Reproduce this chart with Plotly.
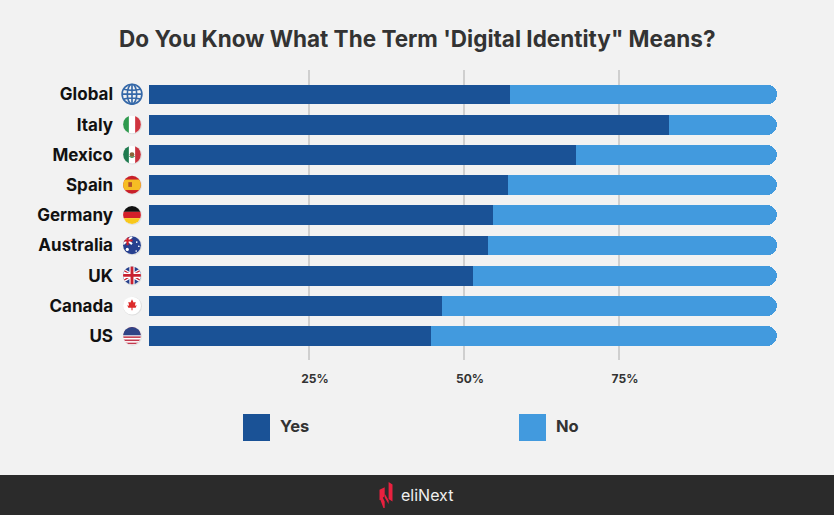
import base64
import plotly.graph_objects as go

countries = ["Global", "Italy", "Mexico", "Spain", "Germany", "Australia", "UK", "Canada", "US"]
yes_values = [57.4, 83.0, 68.0, 57.1, 54.7, 53.9, 51.5, 46.5, 44.7]
axis_ticks = [25, 50, 75]
tick_labels = ["25%", "50%", "75%"]
full_end = 100.5
bar_start = -0.8

W, H = 834, 515
L, R, T, B = 149, 800, 70, 360
FONT = "Inter, 'Open Sans', sans-serif"
YES = "#1a5296"
NO = "#429ade"
BG = "#f2f2f2"


def svg_uri(body, vb="0 0 40 40"):
    s = f'<svg xmlns="http://www.w3.org/2000/svg" viewBox="{vb}" width="80" height="80">{body}</svg>'
    return "data:image/svg+xml;base64," + base64.b64encode(s.encode()).decode()


def flag(inner):
    return svg_uri(
        '<defs><clipPath id="c"><circle cx="20" cy="20" r="17"/></clipPath></defs>'
        '<circle cx="21" cy="21" r="18" fill="#dfdfdf"/>'
        f'<g clip-path="url(#c)"><rect width="40" height="40" fill="#fff"/>{inner}</g>'
    )


union = (
    '<rect width="40" height="40" fill="#27408b"/>'
    '<path d="M0 8L40 32M40 8L0 32" stroke="#fff" stroke-width="7"/>'
    '<path d="M0 8L40 32M40 8L0 32" stroke="#c8202f" stroke-width="2.5"/>'
    '<path d="M20 0V40M0 20H40" stroke="#fff" stroke-width="10"/>'
    '<path d="M20 0V40M0 20H40" stroke="#c8202f" stroke-width="5.5"/>'
)
flags = [
    svg_uri('<g fill="none" stroke="#3568a8" stroke-width="3"><circle cx="20" cy="20" r="18"/>'
            '<ellipse cx="20" cy="20" rx="8.5" ry="18"/><path d="M20 2V38M2 20H38M5 11Q20 15 35 11M5 29Q20 25 35 29"/></g>'),
    flag('<rect x="3" width="11" height="40" fill="#2f9a4e"/><rect x="26" width="11" height="40" fill="#d0343f"/>'),
    flag('<rect x="3" width="11" height="40" fill="#1f7a4f"/><rect x="26" width="11" height="40" fill="#c8303c"/>'
         '<circle cx="20" cy="20" r="4.5" fill="#8a6238"/><path d="M15 23Q20 28 25 23" stroke="#3b8a55" stroke-width="2" fill="none"/>'),
    flag('<rect width="40" height="40" fill="#c8202a"/><rect y="10" width="40" height="20" fill="#f6bd24"/>'
         '<rect x="13" y="15" width="7" height="9" fill="#b5532a"/>'),
    flag('<rect width="40" height="14" fill="#111"/><rect y="14" width="40" height="12" fill="#d3202a"/>'
         '<rect y="26" width="40" height="14" fill="#f8c81c"/>'),
    flag('<rect width="40" height="40" fill="#27408f"/><path d="M3 4L20 18M20 4L3 18" stroke="#fff" stroke-width="4"/>'
         '<path d="M11.5 2V20M2 11H21" stroke="#d3202a" stroke-width="4"/>'
         '<circle cx="11" cy="28" r="3" fill="#fff"/><circle cx="29" cy="14" r="1.6" fill="#fff"/>'
         '<circle cx="33" cy="22" r="1.6" fill="#fff"/><circle cx="28" cy="31" r="1.6" fill="#fff"/>'),
    flag(union),
    flag('<path d="M20 8L23 14L27 13L25.5 20L29 19.5L27 24L21 24V29H19V24L13 24L11 19.5L14.5 20L13 13L17 14Z" fill="#dc2a2a"/>'),
    flag('<rect width="40" height="40" fill="#fff"/>'
         + "".join(f'<rect y="{y}" width="40" height="3" fill="#c23a4e"/>' for y in range(3, 40, 6))
         + '<rect width="40" height="19" fill="#2f4386"/>'),
]

yes_spans = [v - bar_start for v in yes_values]
track_spans = [full_end - bar_start] * len(countries)
bases = [bar_start] * len(countries)

fig = go.Figure()
fig.add_bar(name="No", y=countries, x=track_spans, base=bases,
            orientation="h", width=0.66, marker=dict(color=NO, line_width=0, cornerradius=10), showlegend=False)
fig.add_bar(name="Yes", y=countries, x=yes_spans, base=bases,
            orientation="h", width=0.66, marker=dict(color=YES, line_width=0), showlegend=False)

px_per_unit = 6.2
x_end = bar_start + (R - L) / px_per_unit


def px(x):
    return (x - L) / (R - L)


def py(y):
    return (B - y) / (B - T)


images = []
for i, src in enumerate(flags):
    size = 21 if i else 22
    images.append(dict(source=src, xref="paper", yref="y", x=px(132), y=i - 0.01,
                       sizex=size / (R - L), sizey=size / 30.2, xanchor="center", yanchor="middle",
                       sizing="contain", layer="above"))
images.append(dict(source=svg_uri(
    '<path d="M10 12L18 8V22L10 28ZM10 14L18 30V40H16L10 24Z" fill="#e8213f"/>'
    '<path d="M24 0L30 4V30L24 26ZM18 18L24 28V34L18 24Z" fill="#e8213f"/>', "0 0 40 40"),
    xref="paper", yref="paper", x=px(386), y=py(495), sizex=26 / (R - L), sizey=26 / (B - T),
    xanchor="center", yanchor="middle", sizing="contain", layer="above"))

shapes = [
    dict(type="rect", xref="paper", yref="paper", x0=px(0), x1=px(W), y0=py(475), y1=py(H),
         fillcolor="#2b2b2b", line_width=0, layer="below"),
    dict(type="rect", xref="paper", yref="paper", x0=px(243), x1=px(270), y0=py(414), y1=py(441),
         fillcolor=YES, line_width=0),
    dict(type="rect", xref="paper", yref="paper", x0=px(519), x1=px(546), y0=py(414), y1=py(441),
         fillcolor=NO, line_width=0),
]


def note(text, x, y, size, color="#333333", anchor="left"):
    return dict(text=text, xref="paper", yref="paper", x=px(x), y=py(y), xanchor=anchor, yanchor="middle",
                showarrow=False, font=dict(family=FONT, size=size, color=color, weight="bold"))


annotations = [
    note("Do You Know What The Term 'Digital Identity\" Means?", 417, 39, 22.5, anchor="center"),
    note("Yes", 278, 426, 16.5),
    note("No", 554, 426, 16.5),
    dict(text="eliNext", xref="paper", yref="paper", x=px(399), y=py(495), xanchor="left", yanchor="middle",
         showarrow=False, font=dict(family=FONT, size=16, color="#f0f0f0")),
]

fig.update_layout(
    width=W, height=H, barmode="overlay", bargap=0,
    paper_bgcolor=BG, plot_bgcolor=BG,
    margin=dict(l=L, r=W - R, t=T, b=H - B, pad=0),
    font=dict(family=FONT),
    images=images, shapes=shapes, annotations=annotations,
    xaxis=dict(range=[bar_start, x_end], tickvals=axis_ticks, ticktext=tick_labels,
               showgrid=True, gridcolor="#cfcfcf", gridwidth=2, zeroline=False, showline=False,
               ticks="", ticklabelstandoff=10, ticklabelshift=6,
               tickfont=dict(family=FONT, size=12, color="#333333", weight="bold")),
    yaxis=dict(categoryorder="array", categoryarray=countries, range=[8.79, -0.81],
               showgrid=False, zeroline=False, showline=False, ticks="", ticklabelstandoff=35,
               tickfont=dict(family=FONT, size=17, color="#111111", weight="bold")),
)
fig.write_html("out.html", config=dict(displayModeBar=False),
               post_script="document.body.style.margin='0';document.documentElement.style.background='#f2f2f2';")
